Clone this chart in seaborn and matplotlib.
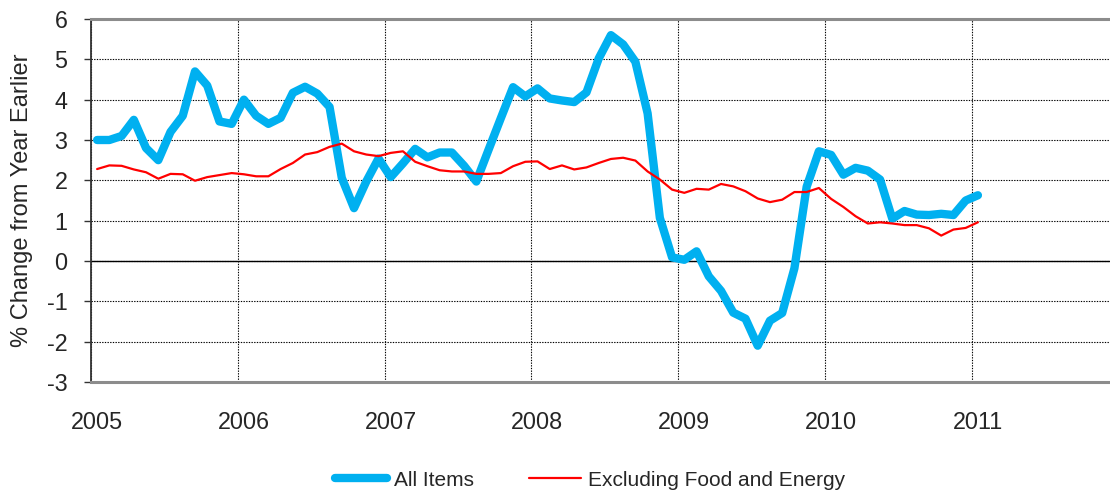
import numpy as np
import pandas as pd
import matplotlib
matplotlib.use("Agg")
import matplotlib.pyplot as plt
import matplotlib.transforms as mtransforms
import seaborn as sns

# ---- data (monthly, Jan 2005 - Jan 2011) ----
start_year = 2005
series_names = ["All Items", "Excluding Food and Energy"]

all_items = [
    3.0, 3.0, 3.1, 3.5, 2.8, 2.5, 3.2, 3.6, 4.7, 4.35, 3.46, 3.4,
    4.0, 3.6, 3.4, 3.55, 4.17, 4.32, 4.15, 3.82, 2.06, 1.31, 1.97, 2.54,
    2.08, 2.42, 2.78, 2.57, 2.69, 2.69, 2.36, 1.97, 2.76, 3.54, 4.31, 4.08,
    4.28, 4.03, 3.98, 3.94, 4.18, 5.02, 5.60, 5.37, 4.94, 3.66, 1.07, 0.09,
    0.03, 0.24, -0.38, -0.74, -1.28, -1.43, -2.10, -1.48, -1.29, -0.18, 1.84, 2.72,
    2.63, 2.14, 2.31, 2.24, 2.02, 1.05, 1.24, 1.15, 1.14, 1.17, 1.14, 1.50,
    1.63,
]

core = [
    2.28, 2.37, 2.36, 2.27, 2.20, 2.04, 2.16, 2.15, 1.99, 2.08, 2.13, 2.18,
    2.15, 2.10, 2.10, 2.28, 2.43, 2.64, 2.70, 2.83, 2.91, 2.72, 2.64, 2.60,
    2.68, 2.72, 2.46, 2.35, 2.25, 2.22, 2.22, 2.16, 2.16, 2.18, 2.35, 2.46,
    2.47, 2.28, 2.37, 2.27, 2.32, 2.43, 2.53, 2.56, 2.49, 2.22, 2.02, 1.77,
    1.69, 1.79, 1.77, 1.91, 1.85, 1.73, 1.55, 1.46, 1.52, 1.71, 1.71, 1.81,
    1.54, 1.34, 1.11, 0.93, 0.96, 0.93, 0.89, 0.89, 0.81, 0.63, 0.78, 0.82,
    0.96,
]

year_ticks = [2005, 2006, 2007, 2008, 2009, 2010, 2011]
y_ticks = [-3, -2, -1, 0, 1, 2, 3, 4, 5, 6]
y_label = "% Change from Year Earlier"

# ---- styling ----
sns.set_style("white")
plt.rcParams["font.family"] = ["Liberation Sans", "DejaVu Sans"]

W, H = 1110, 494
fig = plt.figure(figsize=(W / 100, H / 100), dpi=100)
ax_left, ax_top, ax_bottom = 91, 19, 382
ax = fig.add_axes([ax_left / W, 1 - ax_bottom / H, 1 - ax_left / W, (ax_bottom - ax_top) / H])

# mid-month positions in decimal years
months_idx = np.arange(len(all_items))
df = pd.DataFrame({
    "date": start_year + (months_idx + 0.5) / 12.0,
    series_names[0]: all_items,
    series_names[1]: core,
})

sns.lineplot(data=df, x="date", y=series_names[0], ax=ax, color="#00B0F0",
             linewidth=6, label=series_names[0],
             solid_capstyle="round", solid_joinstyle="round", zorder=3)
sns.lineplot(data=df, x="date", y=series_names[1], ax=ax, color="#FF0000",
             linewidth=1.6, label=series_names[1],
             solid_joinstyle="round", zorder=4)

# axes limits
ax.set_xlim(year_ticks[0], year_ticks[0] + (W - ax_left) / 146.8)
ax.set_ylim(y_ticks[0], y_ticks[-1])
ax.set_xticks(year_ticks)
ax.set_xticklabels([str(y) for y in year_ticks])
ax.set_yticks(y_ticks)
ax.set_yticklabels([str(v) for v in y_ticks])

# grid
ax.grid(True, color="black", linestyle=(0, (1.2, 1.2)), linewidth=0.8, zorder=1)
ax.set_axisbelow(True)
ax.axhline(0, color="black", linewidth=1.0, zorder=2)

# spines
for s in ["top", "bottom"]:
    ax.spines[s].set_color("#8c8c8c")
    ax.spines[s].set_linewidth(2.2)
ax.spines["left"].set_color("#333333")
ax.spines["left"].set_linewidth(1.3)
ax.spines["right"].set_visible(False)

ax.tick_params(axis="y", direction="out", length=5, width=1, color="#333333",
               pad=12, labelsize=16.8, left=True)
ax.tick_params(axis="x", length=0, pad=21, labelsize=16.8, bottom=True)

offset = mtransforms.ScaledTranslation(6 / 100, 0, fig.dpi_scale_trans)
for lab in ax.get_xticklabels():
    lab.set_transform(lab.get_transform() + offset)

ax.set_xlabel("")
ax.set_ylabel(y_label, fontsize=17)
ax.yaxis.set_label_coords(-0.057, 0.5)

handles, labels = ax.get_legend_handles_labels()
ax.get_legend().remove()
fig.legend(handles, labels, loc="center", bbox_to_anchor=(590 / W, 1 - 480 / H),
           ncol=2, frameon=False, fontsize=15, handlelength=2.5,
           handletextpad=0.35, columnspacing=2.6)

fig.savefig("out.png", dpi=100)
